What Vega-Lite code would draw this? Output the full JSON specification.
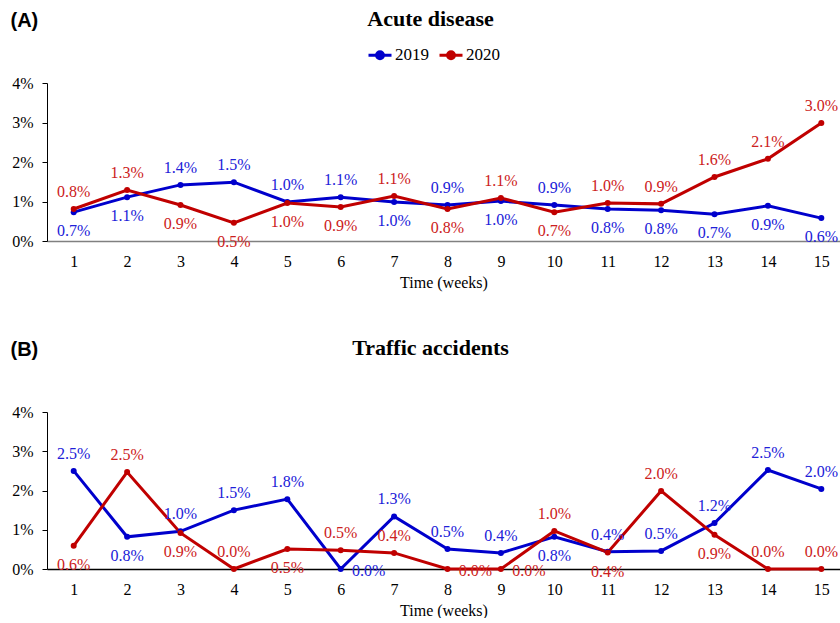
{
  "$schema": "https://vega.github.io/schema/vega-lite/v6.json",
  "padding": {"left": 10, "top": 8, "right": 0, "bottom": 0},
  "spacing": 47,
  "config": {
    "font": "Liberation Serif",
    "view": {"stroke": null},
    "axis": {"labelFont": "Liberation Serif", "titleFont": "Liberation Serif", "labelColor": "black", "titleColor": "black", "labelFontSize": 16, "titleFontSize": 16, "titleFontWeight": "normal", "grid": false},
    "legend": {"labelFont": "Liberation Serif", "labelFontSize": 17, "labelColor": "black"},
    "title": {"font": "Liberation Serif", "fontSize": 22, "fontWeight": "bold", "color": "black", "anchor": "middle"}
  },
  "datasets": {
    "acute": [
      {"week": 1, "year": "2019", "value": 0.0073},
      {"week": 2, "year": "2019", "value": 0.0111},
      {"week": 3, "year": "2019", "value": 0.0142},
      {"week": 4, "year": "2019", "value": 0.0149},
      {"week": 5, "year": "2019", "value": 0.0099},
      {"week": 6, "year": "2019", "value": 0.0111},
      {"week": 7, "year": "2019", "value": 0.0099},
      {"week": 8, "year": "2019", "value": 0.0091},
      {"week": 9, "year": "2019", "value": 0.0101},
      {"week": 10, "year": "2019", "value": 0.0091},
      {"week": 11, "year": "2019", "value": 0.0081},
      {"week": 12, "year": "2019", "value": 0.0078},
      {"week": 13, "year": "2019", "value": 0.0068},
      {"week": 14, "year": "2019", "value": 0.0089},
      {"week": 15, "year": "2019", "value": 0.0058},
      {"week": 1, "year": "2020", "value": 0.0081},
      {"week": 2, "year": "2020", "value": 0.0129},
      {"week": 3, "year": "2020", "value": 0.0091},
      {"week": 4, "year": "2020", "value": 0.0046},
      {"week": 5, "year": "2020", "value": 0.0096},
      {"week": 6, "year": "2020", "value": 0.0086},
      {"week": 7, "year": "2020", "value": 0.0114},
      {"week": 8, "year": "2020", "value": 0.0081},
      {"week": 9, "year": "2020", "value": 0.0109},
      {"week": 10, "year": "2020", "value": 0.0073},
      {"week": 11, "year": "2020", "value": 0.0096},
      {"week": 12, "year": "2020", "value": 0.0094},
      {"week": 13, "year": "2020", "value": 0.0162},
      {"week": 14, "year": "2020", "value": 0.0208},
      {"week": 15, "year": "2020", "value": 0.0299}
    ],
    "traffic": [
      {"week": 1, "year": "2019", "value": 0.0250},
      {"week": 2, "year": "2019", "value": 0.0082},
      {"week": 3, "year": "2019", "value": 0.0096},
      {"week": 4, "year": "2019", "value": 0.0150},
      {"week": 5, "year": "2019", "value": 0.0178},
      {"week": 6, "year": "2019", "value": 0.0},
      {"week": 7, "year": "2019", "value": 0.0134},
      {"week": 8, "year": "2019", "value": 0.0051},
      {"week": 9, "year": "2019", "value": 0.0041},
      {"week": 10, "year": "2019", "value": 0.0082},
      {"week": 11, "year": "2019", "value": 0.0044},
      {"week": 12, "year": "2019", "value": 0.0046},
      {"week": 13, "year": "2019", "value": 0.0117},
      {"week": 14, "year": "2019", "value": 0.0252},
      {"week": 15, "year": "2019", "value": 0.0204},
      {"week": 1, "year": "2020", "value": 0.0059},
      {"week": 2, "year": "2020", "value": 0.0247},
      {"week": 3, "year": "2020", "value": 0.0092},
      {"week": 4, "year": "2020", "value": 0.0},
      {"week": 5, "year": "2020", "value": 0.0051},
      {"week": 6, "year": "2020", "value": 0.0048},
      {"week": 7, "year": "2020", "value": 0.0041},
      {"week": 8, "year": "2020", "value": 0.0},
      {"week": 9, "year": "2020", "value": 0.0},
      {"week": 10, "year": "2020", "value": 0.0097},
      {"week": 11, "year": "2020", "value": 0.0042},
      {"week": 12, "year": "2020", "value": 0.0199},
      {"week": 13, "year": "2020", "value": 0.0087},
      {"week": 14, "year": "2020", "value": 0.0},
      {"week": 15, "year": "2020", "value": 0.0}
    ]
  },
  "vconcat": [
    {
      "width": 793, "height": 158,
      "data": {"name": "acute"},
      "title": {"text": "Acute disease", "offset": -21, "dx": -13},
      "transform": [{"joinaggregate": [{"op": "max", "field": "value", "as": "maxv"}], "groupby": ["week"]}],
      "encoding": {
        "x": {"field": "week", "type": "quantitative", "scale": {"domain": [0.5, 15.35], "nice": false, "zero": false},
              "axis": {"values": [1,2,3,4,5,6,7,8,9,10,11,12,13,14,15], "ticks": false, "domainColor": "#808080", "domainWidth": 1.5, "labelPadding": 12, "title": "Time (weeks)", "titlePadding": 5}},
        "y": {"field": "value", "type": "quantitative", "scale": {"domain": [0, 0.04], "nice": false},
              "axis": {"values": [0, 0.01, 0.02, 0.03, 0.04], "format": ".0%", "domainColor": "black", "tickColor": "black", "tickSize": 5, "labelPadding": 9,
                       "title": "(A)", "titleAngle": 0, "titleX": -37, "titleY": -63, "titleAlign": "left", "titleBaseline": "middle", "titleFont": "Liberation Sans", "titleFontWeight": "bold", "titleFontSize": 20}}
      },
      "layer": [
        {
          "mark": {"type": "line", "strokeWidth": 3, "point": {"filled": true, "size": 36}},
          "encoding": {
            "color": {"field": "year", "type": "nominal", "scale": {"domain": ["2019", "2020"], "range": ["#0000CC", "#C00000"]},
                      "legend": {"title": null, "orient": "none", "direction": "horizontal", "legendX": 320, "legendY": -41,
                                 "symbolType": "M-1,0H1M-0.3,0A0.3,0.3 0 1,1 0.3,0A0.3,0.3 0 1,1 -0.3,0Z", "symbolSize": 529, "symbolStrokeWidth": 3, "labelOffset": 2, "columnPadding": 4,
                                 "encode": {"symbols": {"update": {"fill": {"scale": "color", "field": "value"}}}}}}
          }
        },
        {
          "transform": [{"filter": "datum.value == datum.maxv"}],
          "mark": {"type": "text", "dy": -17, "fontSize": 16, "font": "Liberation Serif"},
          "encoding": {
            "text": {"field": "value", "type": "quantitative", "format": ".1%"},
            "color": {"condition": {"test": "datum.year == '2019'", "value": "#2020D8"}, "value": "#CC2020"}
          }
        },
        {
          "transform": [{"filter": "datum.value != datum.maxv"}],
          "mark": {"type": "text", "dy": 19, "fontSize": 16, "font": "Liberation Serif"},
          "encoding": {
            "text": {"field": "value", "type": "quantitative", "format": ".1%"},
            "color": {"condition": {"test": "datum.year == '2019'", "value": "#2020D8"}, "value": "#CC2020"}
          }
        }
      ]
    },
    {
      "width": 793, "height": 157,
      "data": {"name": "traffic"},
      "title": {"text": "Traffic accidents", "offset": -21, "dx": -13},
      "transform": [{"joinaggregate": [{"op": "max", "field": "value", "as": "maxv"}], "groupby": ["week"]}],
      "encoding": {
        "x": {"field": "week", "type": "quantitative", "scale": {"domain": [0.5, 15.35], "nice": false, "zero": false},
              "axis": {"values": [1,2,3,4,5,6,7,8,9,10,11,12,13,14,15], "ticks": false, "domainColor": "black", "domainWidth": 1.5, "labelPadding": 12, "title": "Time (weeks)", "titlePadding": 5}},
        "y": {"field": "value", "type": "quantitative", "scale": {"domain": [0, 0.04], "nice": false},
              "axis": {"values": [0, 0.01, 0.02, 0.03, 0.04], "format": ".0%", "domainColor": "black", "tickColor": "black", "tickSize": 5, "labelPadding": 9,
                       "title": "(B)", "titleAngle": 0, "titleX": -37, "titleY": -63, "titleAlign": "left", "titleBaseline": "middle", "titleFont": "Liberation Sans", "titleFontWeight": "bold", "titleFontSize": 20}}
      },
      "layer": [
        {
          "mark": {"type": "line", "strokeWidth": 3, "point": {"filled": true, "size": 36}},
          "encoding": {
            "color": {"field": "year", "type": "nominal", "scale": {"domain": ["2019", "2020"], "range": ["#0000CC", "#C00000"]},
                      "legend": {"title": null, "orient": "none", "direction": "horizontal", "legendX": 320, "legendY": -41,
                                 "symbolType": "M-1,0H1M-0.3,0A0.3,0.3 0 1,1 0.3,0A0.3,0.3 0 1,1 -0.3,0Z", "symbolSize": 529, "symbolStrokeWidth": 3, "labelOffset": 2, "columnPadding": 4,
                                 "encode": {"symbols": {"update": {"fill": {"scale": "color", "field": "value"}}}}}}
          }
        },
        {
          "transform": [{"filter": "(datum.value == datum.maxv && datum.value > 0) || (datum.value == 0 && datum.maxv >= 0.01) || (datum.value > 0 && datum.value < datum.maxv && datum.value < 0.005 && datum.maxv - datum.value > 0.005)"}],
          "mark": {"type": "text", "dy": -17, "fontSize": 16, "font": "Liberation Serif"},
          "encoding": {
            "text": {"field": "value", "type": "quantitative", "format": ".1%"},
            "color": {"condition": {"test": "datum.year == '2019'", "value": "#2020D8"}, "value": "#CC2020"}
          }
        },
        {
          "transform": [{"filter": "datum.value > 0 && datum.value < datum.maxv && !(datum.value < 0.005 && datum.maxv - datum.value > 0.005)"}],
          "mark": {"type": "text", "dy": 19, "fontSize": 16, "font": "Liberation Serif"},
          "encoding": {
            "text": {"field": "value", "type": "quantitative", "format": ".1%"},
            "color": {"condition": {"test": "datum.year == '2019'", "value": "#2020D8"}, "value": "#CC2020"}
          }
        },
        {
          "transform": [{"filter": "datum.value == 0 && datum.maxv < 0.01"}],
          "mark": {"type": "text", "dx": 28, "dy": 2, "fontSize": 16, "font": "Liberation Serif"},
          "encoding": {
            "text": {"field": "value", "type": "quantitative", "format": ".1%"},
            "color": {"condition": {"test": "datum.year == '2019'", "value": "#2020D8"}, "value": "#CC2020"}
          }
        }
      ]
    }
  ]
}
